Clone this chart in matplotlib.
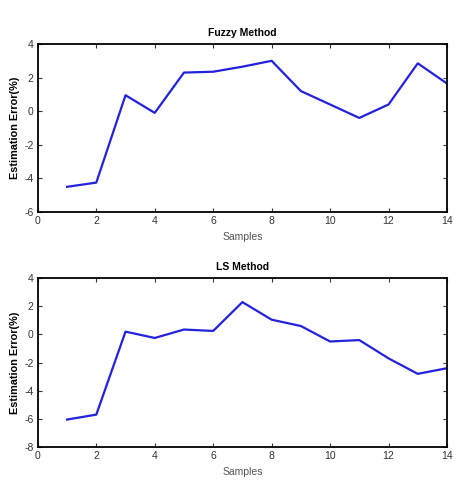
import numpy as np
import matplotlib
matplotlib.use('Agg')
import matplotlib.pyplot as plt

plt.rcParams['font.family'] = ['Liberation Sans', 'DejaVu Sans']
plt.rcParams['axes.unicode_minus'] = False

# samples and estimation errors (%)
samples = np.arange(1, 15)
fuzzy_err = [-4.5, -4.25, 0.95, -0.1, 2.3, 2.35, 2.65, 3.0, 1.2, 0.4, -0.4, 0.4, 2.85, 1.65]
ls_err = [-6.05, -5.7, 0.2, -0.25, 0.35, 0.25, 2.3, 1.05, 0.6, -0.5, -0.4, -1.7, -2.8, -2.4]

titles = ['Fuzzy Method', 'LS Method']
ylims = [(-6, 4), (-8, 4)]
yticks = [np.arange(-6, 5, 2), np.arange(-8, 5, 2)]

fig = plt.figure(figsize=(4.73, 4.95), dpi=100)
ax1 = fig.add_axes([0.080, 0.5717, 0.865, 0.3394])
ax2 = fig.add_axes([0.080, 0.097, 0.865, 0.341])

for ax, data, title, yl, yt in zip([ax1, ax2], [fuzzy_err, ls_err], titles, ylims, yticks):
    ax.plot(samples, data, color='#2222dd', lw=1.6)
    ax.set_xlim(0, 14)
    ax.set_ylim(*yl)
    ax.set_xticks(np.arange(0, 15, 2))
    ax.set_yticks(yt)
    ax.tick_params(direction='in', top=True, right=True, labelsize=7.5,
                   length=3, width=0.8, pad=3, colors='#333333')
    for s in ax.spines.values():
        s.set_linewidth(1.3)
    ax.set_title(title, fontsize=7.5, fontweight='bold', pad=6)
    ax.set_xlabel('Samples', fontsize=7.5, color='#555555', labelpad=4)
    ax.set_ylabel('Estimation Error(%)', fontsize=7.8, fontweight='bold', labelpad=3)

fig.savefig('out.png', dpi=100)
